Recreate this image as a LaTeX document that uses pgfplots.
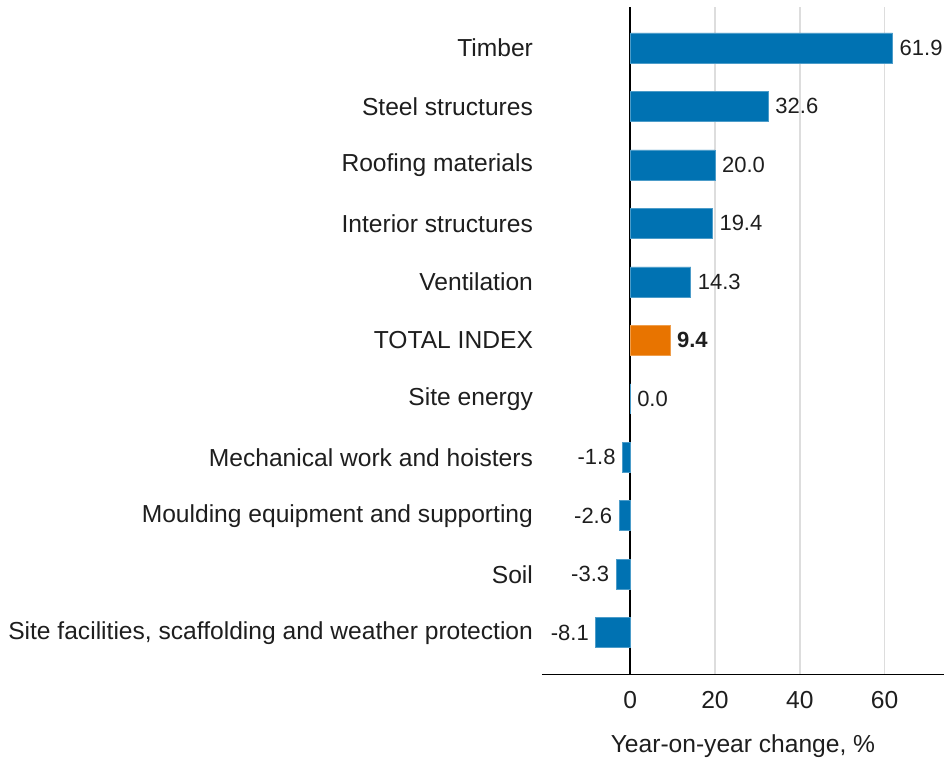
\documentclass[border=0pt]{standalone}
\usepackage{pgfplots}
\pgfplotsset{compat=1.18}
\usepackage{fontspec}
\setmainfont{Liberation Sans}
\definecolor{barblue}{RGB}{0,114,178}
\definecolor{barorange}{RGB}{232,116,0}
\definecolor{txt}{RGB}{30,30,30}
\definecolor{gridgray}{RGB}{221,221,221}
\begin{document}
\begin{tikzpicture}
\begin{axis}[
  scale only axis,
  width=201pt, height=334pt,
  xbar, bar width=15pt, bar shift=0pt,
  xmin=-20.8, xmax=74,
  ymin=-0.72, ymax=10.7,
  xtick={0,20,40,60},
  ytick={0,...,10},
  yticklabels={Site facilities{,} scaffolding and weather protection, Soil, Moulding equipment and supporting, Mechanical work and hoisters, Site energy, TOTAL INDEX, Ventilation, Interior structures, Roofing materials, Steel structures, Timber},
  major tick length=0pt,
  xmajorgrids, grid style={draw=gridgray, line width=0.8pt},
  extra x ticks={0}, extra x tick labels={},
  extra x tick style={grid style={draw=black, line width=1pt}},
  axis line style={draw=none},
  tick label style={font=\fontsize{12.3}{14}\selectfont, text=txt},
  /pgf/number format/assume math mode=true,
  xticklabel shift=0pt,
  xticklabel style={anchor=center, yshift=-12.5pt},
  yticklabel shift=1pt,
  xlabel={Year-on-year change, \%},
  xlabel style={at={(axis description cs:0.5,0)}, anchor=center, yshift=-35.5pt,
    font=\fontsize{12.3}{14}\selectfont, text=txt},
  nodes near coords={\pgfmathprintnumber[fixed,fixed zerofill,precision=1,assume math mode=true]{\pgfplotspointmeta}},
  every node near coord/.append style={font=\fontsize{11}{13}\selectfont, text=txt},
]
\addplot[fill=barblue, draw=barblue!70!white, line width=0.4pt] coordinates {
  (61.9,10) (32.6,9) (20.0,8) (19.4,7) (14.3,6)
  (0.0,4) (-1.8,3) (-2.6,2) (-3.3,1) (-8.1,0)
};
\addplot[fill=barorange, draw=barorange!70!white, line width=0.4pt,
  every node near coord/.append style={font=\fontsize{11}{13}\selectfont\bfseries}] coordinates {
  (9.4,5)
};
\draw[black, line width=1pt] (rel axis cs:0,0) -- (rel axis cs:1,0);
\end{axis}
\pgfresetboundingbox
\path[use as bounding box] (-271pt,-41.5pt) rectangle (201pt,337.5pt);
\end{tikzpicture}
\end{document}
